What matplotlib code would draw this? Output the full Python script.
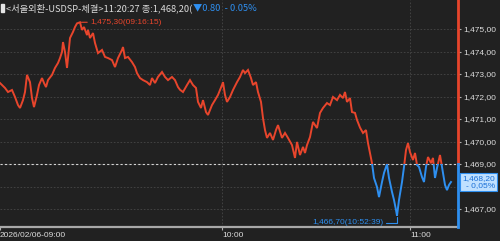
import matplotlib
matplotlib.use('Agg')
import numpy as np
import matplotlib.pyplot as plt
import matplotlib.patches as mpatches
import matplotlib.transforms as mtrans
from matplotlib.ticker import FuncFormatter

# ---------------- data ----------------
tick_no = [0, 5, 8, 12, 15, 18, 20, 23, 25, 27, 30, 32, 34, 37, 39, 42, 44, 46, 48, 52,
           55, 58, 60, 62, 63, 65, 67, 68, 70, 73, 75, 77, 80, 82, 84, 87, 88, 90, 93, 95,
           98, 102, 105, 108, 112, 115, 118, 122, 123, 125, 128, 132, 135, 137, 140, 143, 147, 150, 152, 155,
           158, 162, 165, 168, 172, 175, 178, 180, 183, 187, 190, 193, 196, 198, 201, 203, 206, 208, 212, 215,
           218, 222, 223, 225, 227, 230, 233, 237, 240, 243, 245, 248, 251, 253, 256, 258, 261, 263, 265, 267,
           270, 273, 276, 278, 282, 285, 288, 292, 295, 297, 300, 303, 305, 307, 310, 313, 315, 317, 320, 323,
           327, 330, 333, 337, 340, 343, 345, 347, 350, 352, 355, 357, 360, 363, 366, 368, 372, 374, 377, 379,
           382, 384, 387, 389, 392, 394, 396, 397, 399, 402, 404, 406, 408, 410, 413, 415, 417, 419, 422, 424,
           426, 428, 431, 433, 435, 437, 440, 443, 445, 447, 449, 451]
price = [1472.60, 1472.38, 1472.20, 1472.29, 1471.98, 1471.62, 1471.49, 1471.84, 1472.20, 1472.96,
         1472.64, 1471.93, 1471.53, 1472.07, 1472.51, 1472.82, 1472.60, 1472.42, 1472.73, 1472.96,
         1473.27, 1473.49, 1473.71, 1473.98, 1474.42, 1473.98, 1473.27, 1473.71, 1474.60, 1474.87,
         1475.09, 1475.25, 1475.30, 1474.96, 1475.09, 1474.73, 1474.96, 1474.60, 1474.82, 1474.38,
         1473.93, 1474.07, 1473.76, 1473.71, 1473.62, 1473.31, 1473.71, 1474.07, 1474.20, 1473.71,
         1473.76, 1473.53, 1473.31, 1473.04, 1472.82, 1472.73, 1472.64, 1472.51, 1472.82, 1472.60,
         1472.87, 1473.09, 1472.87, 1472.73, 1472.87, 1472.73, 1472.42, 1472.30, 1472.20, 1472.51,
         1472.73, 1472.51, 1472.38, 1471.76, 1471.49, 1471.84, 1471.31, 1471.18, 1471.62, 1471.84,
         1472.07, 1472.51, 1472.64, 1472.07, 1471.76, 1471.98, 1472.29, 1472.64, 1472.87, 1473.18,
         1473.04, 1473.18, 1472.82, 1472.51, 1472.64, 1472.20, 1471.76, 1471.04, 1470.51, 1470.16,
         1470.38, 1470.07, 1470.51, 1470.73, 1470.16, 1470.38, 1470.16, 1469.84, 1469.27, 1469.98,
         1469.40, 1469.76, 1469.49, 1469.84, 1470.20, 1470.87, 1470.73, 1470.60, 1471.27, 1471.49,
         1471.71, 1471.62, 1471.98, 1471.84, 1472.07, 1471.93, 1472.20, 1471.76, 1471.93, 1471.31,
         1471.27, 1470.96, 1470.62, 1470.38, 1470.51, 1469.93, 1469.04, 1468.38, 1467.98, 1467.53,
         1468.20, 1468.60, 1469.00, 1468.38, 1467.76, 1467.40, 1466.96, 1466.70, 1467.40, 1468.20,
         1468.87, 1469.62, 1469.93, 1469.53, 1469.18, 1469.49, 1468.96, 1468.87, 1468.42, 1468.20,
         1468.87, 1469.31, 1469.04, 1469.27, 1468.38, 1468.82, 1469.40, 1468.60, 1468.07, 1467.84,
         1468.07, 1468.20]
prev_close = 1469.00
last_price = 1468.20
change = -0.80
change_pct = -0.05
last_time = '11:20:27'
high_time = '09:16:15'
low_time = '10:52:39'
title_name = '<서울외환-USDSP-체결>'
x_tick_pos = [0, 222, 410]
x_tick_labels = ['2026/02/06-09:00', '10:00', '11:00']
y_tick_vals = [1467, 1469, 1470, 1471, 1472, 1473, 1474, 1475]
grid_levels = [1467, 1468, 1469, 1470, 1471, 1472, 1473, 1474, 1475]

# ---------------- style ----------------
BG = '#212121'
RED = '#e8452c'
BLUE = '#2e8ff0'
TXT = '#dcdcdc'
GRID = '#474747'
NUMFONT = ['Liberation Sans', 'DejaVu Sans']
KRFONT = ['Noto Sans CJK KR', 'DejaVu Sans']
FS = 6.0


def fmt(v):
    return f"{v:,.2f}".replace('.', ',')


fig = plt.figure(figsize=(5.0, 2.41), dpi=100, facecolor=BG)
ax = fig.add_axes([0, 14 / 241, 458 / 500, 227 / 241])
ax.set_facecolor(BG)
ax.set_xlim(0, 458)
ax.set_ylim(1466.20, 1476.29)

for s in ('top', 'left', 'right'):
    ax.spines[s].set_visible(False)
ax.spines['bottom'].set_color('#a8a8a8')
ax.spines['bottom'].set_linewidth(1.6)

# grid
ax.hlines(grid_levels, 0, 458, colors=GRID, linewidth=0.6, linestyles=(0, (2, 2)), zorder=1)
ax.vlines(x_tick_pos[1:], 1466.20, 1476.29, colors=GRID, linewidth=0.6, linestyles=(0, (2, 2)), zorder=1)
ax.axhline(prev_close, color='#d4d4d4', linewidth=0.8, linestyle=(0, (2, 2)), zorder=2)

# price line, red above previous close, blue below
blend = mtrans.blended_transform_factory(ax.transAxes, ax.transData)
for color, rect in ((RED, mpatches.Rectangle((0, prev_close), 1, 100, transform=blend)),
                    (BLUE, mpatches.Rectangle((0, prev_close - 100), 1, 100, transform=blend))):
    ln, = ax.plot(tick_no, price, color=color, linewidth=1.4, zorder=3, solid_joinstyle='miter')
    ln.set_clip_path(rect)

# right axis line coloured by side of previous close
ylo, yhi = ax.get_ylim()
ax.plot([1, 1], [prev_close, yhi], transform=blend, color=RED, linewidth=2.0, clip_on=False, zorder=4)
ax.plot([1, 1], [ylo, prev_close], transform=blend, color=BLUE, linewidth=2.0, clip_on=False, zorder=4)

# ticks
ax.yaxis.tick_right()
ax.set_yticks(y_tick_vals)
ax.yaxis.set_major_formatter(FuncFormatter(lambda v, p: fmt(v)))
ax.tick_params(axis='y', colors='#b0b0b0', labelcolor=TXT, labelsize=FS, length=2, pad=1.5, width=0.8)
ax.set_xticks(x_tick_pos)
ax.set_xticklabels(x_tick_labels)
ax.tick_params(axis='x', colors='#b0b0b0', labelcolor=TXT, labelsize=FS, length=2.5, pad=1, width=0.8)
for tl in ax.get_xticklabels() + ax.get_yticklabels():
    tl.set_fontfamily(NUMFONT)
for tl in ax.get_xticklabels():
    tl.set_ha('left')

# high / low annotations
imax = int(np.argmax(price))
imin = int(np.argmin(price))
ax.annotate(f"{fmt(price[imax])}({high_time})", xy=(tick_no[imax], price[imax]),
            xytext=(10, 0), textcoords='offset pixels', color=RED, fontsize=FS,
            family=NUMFONT, ha='left', va='center',
            arrowprops=dict(arrowstyle='-', color=RED, lw=0.8, shrinkA=0, shrinkB=1))
ax.annotate(f"{fmt(price[imin])}({low_time})", xy=(tick_no[imin], price[imin]),
            xytext=(-14, -7), textcoords='offset pixels', color=BLUE, fontsize=FS,
            family=NUMFONT, ha='right', va='center', annotation_clip=False,
            arrowprops=dict(arrowstyle='-', color=BLUE, lw=0.8, shrinkA=0, shrinkB=1,
                            connectionstyle='angle,angleA=0,angleB=90,rad=0'))

# current price box
ax.annotate(f"{fmt(last_price)}\n- {abs(change_pct):.2f}%".replace('.', ','),
            xy=(1, last_price), xycoords=blend, xytext=(4, 0), textcoords='offset pixels',
            ha='left', va='center', multialignment='right', fontsize=FS, family=NUMFONT,
            color='#1a6fd6', linespacing=1.0, annotation_clip=False, zorder=6,
            bbox=dict(boxstyle='square,pad=0.25', fc='#bfe0ff', ec=BLUE, lw=0.8))

# title
fig.patches.append(mpatches.Rectangle((1 / 500, 1 - 12 / 241), 3 / 500, 8 / 241,
                                      transform=fig.transFigure, color='#e6e6e6'))
t1 = fig.text(6 / 500, 1 - 8 / 241, f"{title_name}{last_time} 종:{fmt(last_price)}(",
              color=TXT, fontsize=6.7, family=KRFONT, va='center', ha='left')
fig.canvas.draw()
bb = t1.get_window_extent()
fig.text(bb.x1 / fig.bbox.width + 1 / 500, 1 - 8 / 241,
         f"▼{abs(change):.2f}  - {abs(change_pct):.2f}%",
         color=BLUE, fontsize=6.7, family=KRFONT, va='center', ha='left')

fig.savefig('out.png', dpi=100, facecolor=BG)
